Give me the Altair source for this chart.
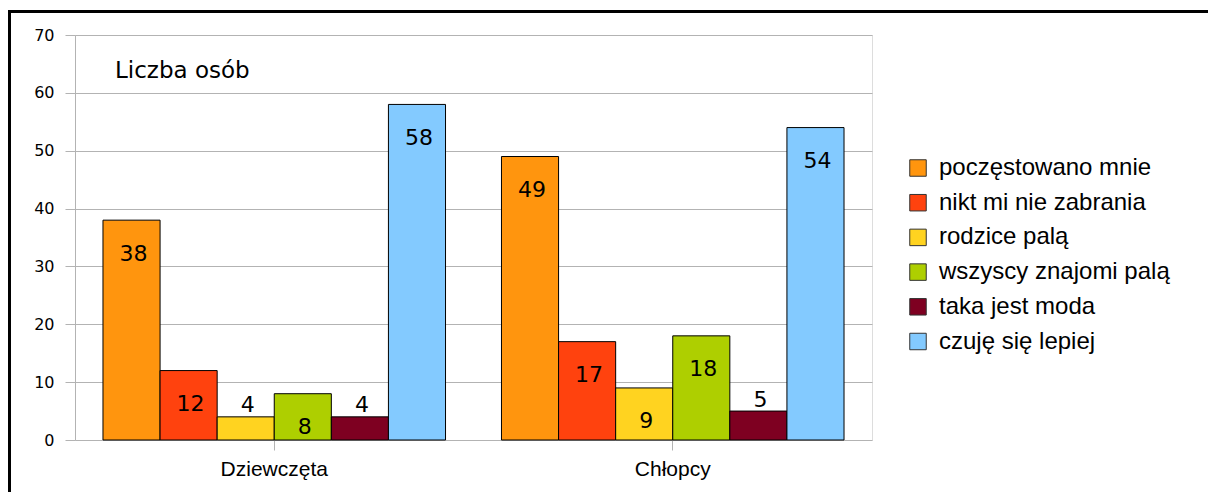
import altair as alt
import pandas as pd

groups = ["Dziewczęta", "Chłopcy"]
reasons = ["poczęstowano mnie", "nikt mi nie zabrania", "rodzice palą",
           "wszyscy znajomi palą", "taka jest moda", "czuję się lepiej"]
girls = [38, 12, 4, 8, 4, 58]
boys = [49, 17, 9, 18, 5, 54]
colors = ["#ff950e", "#ff420e", "#ffd320", "#aecf00", "#7e0021", "#83caff"]
y_ticks = [0, 10, 20, 30, 40, 50, 60, 70]

rows = []
for g, vals in zip(groups, [girls, boys]):
    for r, v in zip(reasons, vals):
        rows.append({"group": g, "reason": r, "value": v})
df = pd.DataFrame(rows)

W, H = 797, 405
PAD_L, PAD_T = 67, 27
CANVAS_W, CANVAS_H = 1200, 484

x_enc = alt.X("group:N", sort=groups, title=None,
              scale=alt.Scale(paddingInner=0, paddingOuter=0),
              axis=alt.Axis(labelAngle=0, labelFont="Liberation Sans", labelFontSize=21,
                            labelColor="#000", tickColor="#b3b3b3", tickSize=10,
                            bandPosition=0.5, labelPadding=8, domain=False, grid=False))
xoff = alt.XOffset("reason:N", sort=reasons,
                   scale=alt.Scale(paddingInner=0, paddingOuter=0.49))
y_scale = alt.Scale(domain=[0, 70], nice=False)

bars = alt.Chart(df).mark_bar(stroke="black", strokeWidth=1).encode(
    x=x_enc,
    xOffset=xoff,
    y=alt.Y("value:Q", scale=y_scale, title=None,
            axis=alt.Axis(values=y_ticks, labelFont="DejaVu Sans", labelFontSize=16,
                          labelColor="#000", tickColor="#b3b3b3", tickSize=10,
                          labelPadding=11, gridColor="#b3b3b3", domainColor="#b3b3b3")),
    color=alt.Color("reason:N", sort=reasons,
                    scale=alt.Scale(domain=reasons, range=colors),
                    legend=alt.Legend(title=None, orient="none", legendX=831, legendY=121,
                                      symbolType="square", symbolSize=272,
                                      symbolStrokeColor="#333", symbolStrokeWidth=1,
                                      labelFont="Liberation Sans", labelFontSize=24,
                                      labelColor="#000", labelOffset=9, labelLimit=0,
                                      rowPadding=10.7, padding=0)),
)

labels = alt.Chart(df).transform_calculate(
    labelY="datum.value >= 8 ? datum.value - 5.8 : datum.value + 2"
).mark_text(font="DejaVu Sans", fontSize=22, color="#000", baseline="middle", dx=2).encode(
    x=alt.X("group:N", sort=groups),
    xOffset=alt.XOffset("reason:N", sort=reasons),
    y=alt.Y("labelY:Q", scale=y_scale),
    text=alt.Text("value:Q"),
)

title_txt = alt.Chart(alt.Data(values=[{"t": "Liczba osób"}])).mark_text(
    font="DejaVu Sans", fontSize=23, color="#000", align="left", baseline="middle"
).encode(x=alt.value(40), y=alt.value(36), text="t:N")

one = alt.Data(values=[{}])
frame_top = alt.Chart(one).mark_rule(color="black", strokeWidth=3).encode(
    x=alt.value(-PAD_L), x2=alt.value(CANVAS_W - PAD_L), y=alt.value(-23.5))
frame_left = alt.Chart(one).mark_rule(color="black", strokeWidth=3).encode(
    x=alt.value(-65.5), y=alt.value(-25), y2=alt.value(CANVAS_H - PAD_T))

chart = alt.layer(bars, labels, title_txt, frame_top, frame_left).properties(
    width=W, height=H,
    autosize=alt.AutoSizeParams(type="none"),
    padding={"left": PAD_L, "top": PAD_T, "right": CANVAS_W - PAD_L - W,
             "bottom": CANVAS_H - PAD_T - H},
).configure_view(stroke="#b3b3b3", strokeWidth=1).configure(background="white")

chart.save("out.html", embed_options={"renderer": "svg", "actions": False})
